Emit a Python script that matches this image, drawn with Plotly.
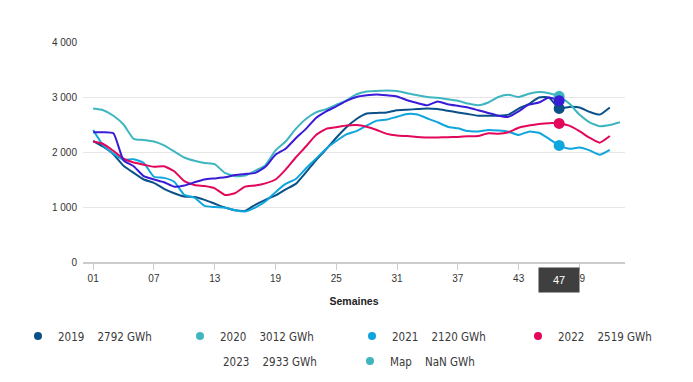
import plotly.graph_objects as go

# ---------------- data ----------------
years = ["2019", "2020", "2021", "2022", "2023"]
colors = ["#0b5189", "#3db6c0", "#0fa6dd", "#e2075b", "#3a1bd6"]

vals_2019 = [2200, 2096, 1960, 1750, 1620, 1500, 1440, 1330, 1250, 1190, 1180, 1130, 1060,
             990, 940, 930, 1040, 1130, 1210, 1320, 1420, 1630, 1850, 2050, 2260, 2450,
             2600, 2700, 2710, 2720, 2760, 2770, 2780, 2790, 2780, 2750, 2720, 2690, 2660,
             2660, 2660, 2680, 2790, 2870, 2990, 2990, 2792, 2820, 2810, 2730, 2680, 2810]
vals_2020 = [2790, 2760, 2660, 2500, 2240, 2220, 2190, 2120, 2010, 1900, 1840, 1800, 1780,
             1620, 1560, 1570, 1660, 1760, 2030, 2190, 2420, 2600, 2720, 2780, 2860, 2940,
             3050, 3100, 3110, 3120, 3110, 3070, 3030, 3000, 2985, 2960, 2930, 2880, 2850,
             2900, 3000, 3040, 3000, 3060, 3090, 3070, 3012, 2880, 2680, 2540, 2470, 2490, 2540]
vals_2021 = [2400, 2120, 1970, 1860, 1870, 1800, 1550, 1530, 1460, 1220, 1170, 1020, 1000,
             990, 940, 920, 990, 1100, 1270, 1420, 1510, 1700, 1880, 2060, 2200, 2320,
             2380, 2480, 2570, 2590, 2640, 2690, 2680, 2610, 2540, 2460, 2430, 2380, 2375,
             2400, 2390, 2370, 2310, 2370, 2350, 2240, 2120, 2060, 2080, 2030, 1950, 2040]
vals_2022 = [2190, 2145, 2020, 1880, 1810, 1770, 1730, 1740, 1650, 1470, 1400, 1380, 1340,
             1220, 1250, 1370, 1390, 1430, 1500, 1680, 1900, 2100, 2310, 2420, 2450, 2480,
             2490, 2460, 2400, 2330, 2300, 2290, 2275, 2265, 2265, 2270, 2275, 2285, 2290,
             2340, 2330, 2360, 2440, 2480, 2510, 2525, 2519, 2480, 2380, 2260, 2170, 2290]
vals_2023 = [2360, 2360, 2340, 1850, 1740, 1560, 1500, 1450, 1370, 1390, 1450, 1500, 1520,
             1540, 1580, 1600, 1620, 1730, 1950, 2060, 2250, 2420, 2620, 2740, 2830, 2930,
             3000, 3030, 3045, 3030, 3010, 2940, 2890, 2850, 2920, 2870, 2840, 2810, 2760,
             2710, 2660, 2640, 2740, 2860, 2900, 2990, 2933]
series = [vals_2019, vals_2020, vals_2021, vals_2022, vals_2023]

highlight_week = 47
legend_values = ["2792", "3012", "2120", "2519", "2933"]
map_label = "Map"
map_value = "NaN"
map_color = "#3fb5bf"

x_ticks = [1, 7, 13, 19, 25, 31, 37, 43, 49]
x_ticktext = ["%02d" % t for t in x_ticks]
y_ticks = [0, 1000, 2000, 3000, 4000]
y_ticktext = ["0", "1 000", "2 000", "3 000", "4 000"]
x_title = "Semaines"

# ---------------- figure ----------------
fig = go.Figure()
NB = "\u00a0"
gap = NB * 4

for yr, col, vals in zip(years, colors, series):
    weeks = list(range(1, len(vals) + 1))
    fig.add_trace(go.Scatter(x=weeks, y=vals, mode="lines", name=yr,
                             line=dict(color=col, width=2, shape="spline", smoothing=0.5),
                             showlegend=False, hoverinfo="skip"))

# highlighted markers at the hovered week
for yr, col, vals in zip(years, colors, series):
    if len(vals) >= highlight_week:
        fig.add_trace(go.Scatter(x=[highlight_week], y=[vals[highlight_week - 1]],
                                 mode="markers", marker=dict(color=col, size=11),
                                 showlegend=False, hoverinfo="skip"))

# legend entries (dots only), one legend box per entry for exact placement
font_leg = dict(family="DejaVu Sans Condensed, Liberation Sans Narrow, sans-serif",
                size=11.5, color="#3a3a3a")
# container pixel positions (page has an 8px body offset)
leg_pos = [(10, 328), (172, 328), (344, 328), (510, 328), (175, 353), (342, 353)]
entries = []
for i, (yr, col, v) in enumerate(zip(years, colors, legend_values)):
    entries.append((f"{yr}{gap}{v} GWh", col if i < 4 else "rgba(0,0,0,0)"))
entries.append((f"{map_label}{gap}{map_value} GWh", map_color))

W, H = 693, 382
legend_layouts = {}
for k, ((name, col), (px, py)) in enumerate(zip(entries, leg_pos)):
    lid = "legend" if k == 0 else f"legend{k + 1}"
    fig.add_trace(go.Scatter(x=[None], y=[None], mode="markers",
                             marker=dict(color=col, size=8), name=name, legend=lid))
    legend_layouts[lid] = dict(orientation="h", xref="container", yref="container",
                               x=px / W, xanchor="left", y=1 - py / H, yanchor="middle",
                               font=font_leg, itemwidth=30, bgcolor="rgba(0,0,0,0)")

# crosshair label on x axis
fig.add_annotation(x=highlight_week, y=0, xref="x", yref="y", yanchor="top", yshift=-5,
                   text=str(highlight_week), showarrow=False,
                   font=dict(family="Liberation Sans, Arial, sans-serif", size=11, color="#ffffff"),
                   bgcolor="#3f3f3f", width=40, height=24, borderpad=0)
fig.add_shape(type="path", xref="x", yref="y", xsizemode="pixel", ysizemode="pixel",
              xanchor=highlight_week, yanchor=0,
              path="M -5 -6 L 0 -1 L 5 -6 Z", fillcolor="#3f3f3f", line=dict(width=0))

fig.update_layout(
    width=W, height=H,
    margin=dict(l=75, r=76, t=34, b=128, autoexpand=False),
    paper_bgcolor="#ffffff", plot_bgcolor="#ffffff",
    showlegend=True,
    xaxis=dict(range=[0, 53.5], tickvals=x_ticks, ticktext=x_ticktext, showgrid=False,
               zeroline=False, showline=True, linecolor="#cccccc", linewidth=2,
               ticks="outside", ticklen=6, tickcolor="#cccccc", tickwidth=1, automargin=False,
               tickfont=dict(family="Liberation Sans, Arial, sans-serif", size=10, color="#333333"),
               title=dict(text="<b>" + x_title + "</b>", standoff=15,
                          font=dict(family="Liberation Sans, Arial, sans-serif", size=10.5, color="#222222"))),
    yaxis=dict(range=[0, 4000], tickvals=y_ticks, ticktext=y_ticktext, showgrid=True,
               gridcolor="#e6e6e6", gridwidth=1, zeroline=False, showline=False,
               ticks="", ticklabelstandoff=5, automargin=False,
               tickfont=dict(family="Liberation Sans, Arial, sans-serif", size=10, color="#333333")),
    hovermode=False,
)
fig.update_layout(**legend_layouts)

fig.write_html("out.html")
